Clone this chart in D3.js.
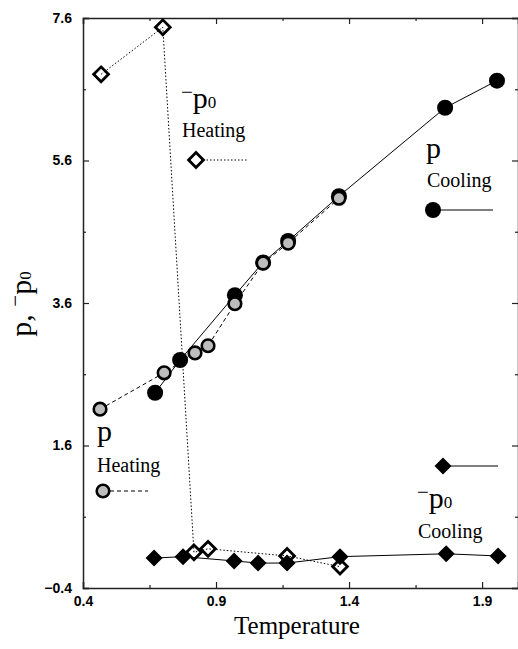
<!DOCTYPE html>
<html>
<head>
<meta charset="utf-8">
<script src="https://cdn.jsdelivr.net/npm/d3@7"></script>
<style>
  body { margin: 0; background: #fff; }
  svg { display: block; }
  .tick text { font-family: "Liberation Sans", Arial, sans-serif; font-weight: bold; font-size: 14px; fill: #000; }
  .lbl { font-family: "Liberation Serif", "Times New Roman", serif; fill: #000; }
</style>
</head>
<body>
<div id="chart"></div>
<script>
// p, heating (grey circles, dashed)
const pHeatT = [0.464, 0.705, 0.821, 0.870, 0.971, 1.077, 1.171, 1.362];
const pHeatV = [2.11, 2.62, 2.90, 3.00, 3.59, 4.16, 4.44, 5.07];
// p, cooling (black circles, solid)
const pCoolT = [0.671, 0.765, 0.971, 1.077, 1.171, 1.362, 1.761, 1.956];
const pCoolV = [2.34, 2.80, 3.71, 4.17, 4.47, 5.10, 6.34, 6.72];
// -p0, heating (open diamonds, dotted)
const p0HeatT = [0.468, 0.700, 0.817, 0.870, 1.167, 1.366];
const p0HeatV = [6.81, 7.47, 0.10, 0.15, 0.05, -0.10];
// -p0, cooling (black diamonds, solid)
const p0CoolT = [0.667, 0.776, 0.968, 1.058, 1.167, 1.366, 1.765, 1.960];
const p0CoolV = [0.02, 0.04, -0.02, -0.05, -0.05, 0.04, 0.08, 0.05];

const xMajor = [0.4, 0.9, 1.4, 1.9];
const xMinor = [0.65, 1.15, 1.65];
const yMajor = [-0.4, 1.6, 3.6, 5.6, 7.6];
const yMinor = [0.6, 2.6, 4.6, 6.6];

const W = 518, H = 649;
const margin = { top: 18, right: 0, bottom: 61, left: 83 };
const width = W - margin.left - margin.right;
const height = H - margin.top - margin.bottom;

const svg = d3.select('#chart').append('svg')
    .attr('width', W)
    .attr('height', H);

const g = svg.append('g')
    .attr('transform', `translate(${margin.left},${margin.top})`);

const x = d3.scaleLinear().domain([0.4, 2.035]).range([0, width]);
const y = d3.scaleLinear().domain([-0.4, 7.6]).range([height, 0]);

// axes: ticks point inwards on all four sides
function styleAxis(sel) {
    sel.selectAll('.domain').attr('stroke', '#222').attr('stroke-width', 1.5);
    sel.selectAll('.tick line').attr('stroke', '#222').attr('stroke-width', 1.2);
}
const fmt = d3.format('.1f');

g.append('g').attr('transform', `translate(0,${height})`)
    .call(d3.axisBottom(x).tickValues(xMajor).tickSize(-6).tickPadding(8).tickFormat(fmt))
    .call(styleAxis);
g.append('g').attr('transform', `translate(0,${height})`)
    .call(d3.axisBottom(x).tickValues(xMinor).tickSize(-3).tickFormat(''))
    .call(styleAxis).select('.domain').remove();
g.append('g')
    .call(d3.axisTop(x).tickValues(xMajor).tickSize(-6).tickFormat(''))
    .call(styleAxis);
g.append('g')
    .call(d3.axisTop(x).tickValues(xMinor).tickSize(-3).tickFormat(''))
    .call(styleAxis).select('.domain').remove();

g.append('g')
    .call(d3.axisLeft(y).tickValues(yMajor).tickSize(-6).tickPadding(11).tickFormat(fmt))
    .call(styleAxis);
g.append('g')
    .call(d3.axisLeft(y).tickValues(yMinor).tickSize(-3).tickFormat(''))
    .call(styleAxis).select('.domain').remove();
g.append('g').attr('transform', `translate(${width},0)`)
    .call(d3.axisRight(y).tickValues(yMajor).tickSize(-6).tickFormat(''))
    .call(styleAxis);
g.append('g').attr('transform', `translate(${width},0)`)
    .call(d3.axisRight(y).tickValues(yMinor).tickSize(-3).tickFormat(''))
    .call(styleAxis).select('.domain').remove();

const zip = (ts, vs) => ts.map((t, i) => [t, vs[i]]);
const line = d3.line().x(d => x(d[0])).y(d => y(d[1]));

const diamond = d3.symbol(d3.symbolSquare, 2 * 7.4 * 7.4);
const diamondBig = d3.symbol(d3.symbolSquare, 2 * 8.5 * 8.5);
const grey = '#bdbdbd';

// lines
g.append('path').datum(zip(p0HeatT, p0HeatV)).attr('d', line)
    .attr('fill', 'none').attr('stroke', '#000').attr('stroke-width', 1)
    .attr('stroke-dasharray', '1.5,2');
g.append('path').datum(zip(p0CoolT, p0CoolV)).attr('d', line)
    .attr('fill', 'none').attr('stroke', '#000').attr('stroke-width', 1);
g.append('path').datum(zip(pCoolT, pCoolV)).attr('d', line)
    .attr('fill', 'none').attr('stroke', '#000').attr('stroke-width', 1);
g.append('path').datum(zip(pHeatT, pHeatV)).attr('d', line)
    .attr('fill', 'none').attr('stroke', '#000').attr('stroke-width', 1)
    .attr('stroke-dasharray', '4,3');

// markers
g.selectAll('.dcool').data(zip(p0CoolT, p0CoolV)).enter().append('path')
    .attr('class', 'dcool')
    .attr('d', diamondBig)
    .attr('transform', d => `translate(${x(d[0])},${y(d[1])}) rotate(45)`)
    .attr('fill', '#000');
g.selectAll('.dheat').data(zip(p0HeatT, p0HeatV)).enter().append('path')
    .attr('class', 'dheat')
    .attr('d', diamond)
    .attr('transform', d => `translate(${x(d[0])},${y(d[1])}) rotate(45)`)
    .attr('fill', 'none').attr('stroke', '#000').attr('stroke-width', 2.8);
g.selectAll('.ccool').data(zip(pCoolT, pCoolV)).enter().append('circle')
    .attr('class', 'ccool')
    .attr('cx', d => x(d[0])).attr('cy', d => y(d[1])).attr('r', 8)
    .attr('fill', '#000');
g.selectAll('.cheat').data(zip(pHeatT, pHeatV)).enter().append('circle')
    .attr('class', 'cheat')
    .attr('cx', d => x(d[0])).attr('cy', d => y(d[1])).attr('r', 6.3)
    .attr('fill', grey).attr('stroke', '#000').attr('stroke-width', 2.6);

// legend labels
function pLabel(px, py, minus) {
    const t = svg.append('text').attr('class', 'lbl').attr('x', px).attr('y', py);
    if (minus) t.append('tspan').attr('font-size', 21).attr('dy', -9).text('\u2212');
    t.append('tspan').attr('font-size', 30).attr('dy', minus ? 9 : 0).text('p');
    if (minus) t.append('tspan').attr('font-size', 17).text('0');
}
function word(px, py, s) {
    svg.append('text').attr('class', 'lbl').attr('x', px).attr('y', py)
        .attr('font-size', 20).text(s);
}

// -p0 heating
pLabel(181, 108, true);
word(182, 137, 'Heating');
svg.append('line').attr('x1', 203).attr('x2', 248).attr('y1', 160).attr('y2', 160)
    .attr('stroke', '#000').attr('stroke-dasharray', '1.5,2');
svg.append('path').attr('d', diamond).attr('transform', 'translate(196,160) rotate(45)')
    .attr('fill', '#fff').attr('stroke', '#000').attr('stroke-width', 2.8);

// p cooling
pLabel(426, 158, false);
word(427, 187, 'Cooling');
svg.append('line').attr('x1', 433).attr('x2', 493).attr('y1', 210).attr('y2', 210)
    .attr('stroke', '#000');
svg.append('circle').attr('cx', 433).attr('cy', 210).attr('r', 8).attr('fill', '#000');

// p heating
pLabel(97, 441, false);
word(97, 472, 'Heating');
svg.append('line').attr('x1', 110).attr('x2', 148).attr('y1', 491).attr('y2', 491)
    .attr('stroke', '#000').attr('stroke-dasharray', '4,3');
svg.append('circle').attr('cx', 103).attr('cy', 491).attr('r', 6.3)
    .attr('fill', grey).attr('stroke', '#000').attr('stroke-width', 2.6);

// -p0 cooling
svg.append('line').attr('x1', 443).attr('x2', 498).attr('y1', 466).attr('y2', 466)
    .attr('stroke', '#000');
svg.append('path').attr('d', diamondBig).attr('transform', 'translate(443,466) rotate(45)')
    .attr('fill', '#000');
pLabel(417, 508, true);
word(418, 538, 'Cooling');

// axis titles
svg.append('text').attr('class', 'lbl')
    .attr('x', 297).attr('y', 634)
    .attr('text-anchor', 'middle').attr('font-size', 25)
    .text('Temperature');

const yt = svg.append('text').attr('class', 'lbl')
    .attr('transform', 'translate(31,304) rotate(-90)')
    .attr('text-anchor', 'middle');
yt.append('tspan').attr('font-size', 30).text('p, ');
yt.append('tspan').attr('font-size', 21).attr('dy', -9).text('\u2212');
yt.append('tspan').attr('font-size', 30).attr('dy', 9).text('p');
yt.append('tspan').attr('font-size', 17).text('0');
</script>
</body>
</html>
